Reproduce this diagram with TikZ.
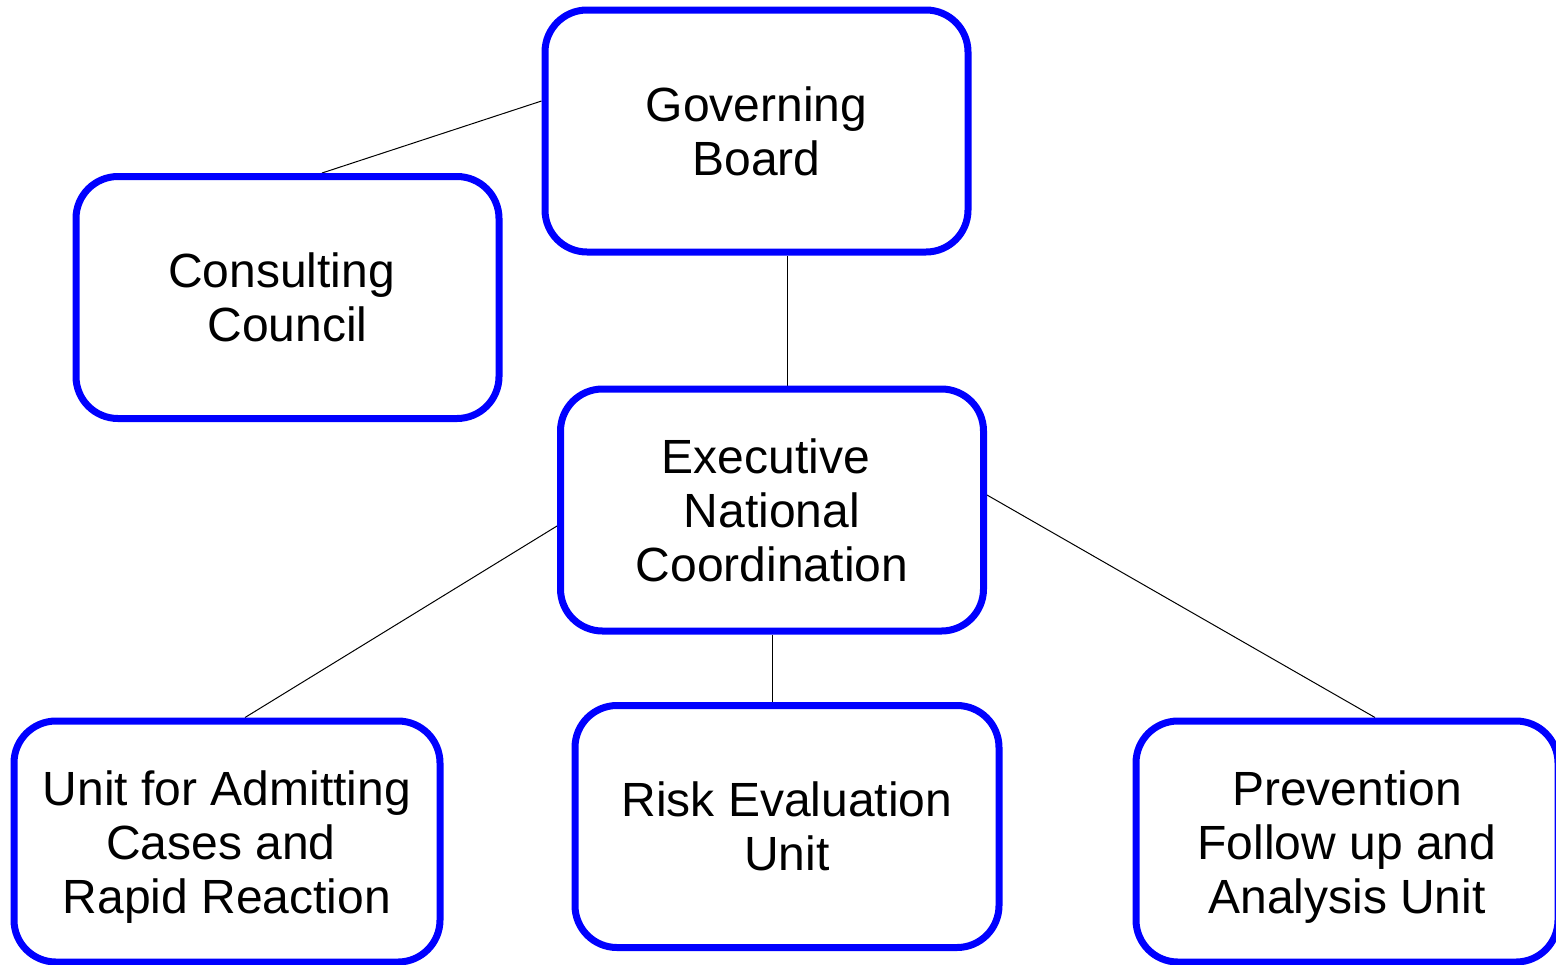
\documentclass[tikz,border=0pt]{standalone}
\usepackage{fontspec}
\setmainfont{Liberation Sans}
\usetikzlibrary{backgrounds}
\begin{document}
\begin{tikzpicture}[x=0.5pt,y=-0.5pt,
  boxfont/.style={font=\fontsize{24pt}{27pt}\selectfont, align=center, inner sep=0pt},
  orgbox/.style={draw=blue, line width=3.5pt, rounded corners=21pt, fill=white,
    minimum width=211.5pt, minimum height=121pt, boxfont},
  link/.style={draw=black, line width=0.5pt}]
\useasboundingbox (0,0) rectangle (1556,964);
\node[orgbox] (gov) at (756.5,131) {Governing\\Board};
\node[orgbox] (cons) at (287.5,297.5) {Consulting\kern6pt\\Council};
\node[orgbox] (exec) at (772,510) {Executive\kern6pt\\National\\Coordination};
\node[orgbox, minimum width=213pt, minimum height=120.5pt,
  label={[boxfont, yshift=-3pt]center:{Unit for Admitting\\Cases and\kern6pt\\Rapid Reaction}}] (unit) at (227,841.5) {};
\node[orgbox, minimum width=212pt] (risk) at (787,826.5) {Risk Evaluation\\Unit};
\node[orgbox, minimum width=211pt, minimum height=120.5pt,
  label={[boxfont, yshift=-3pt]center:{Prevention\\Follow up and\\Analysis Unit}}] (prev) at (1347,841.5) {};
\begin{scope}[on background layer]
  \fill[white] (0,0) rectangle (1556,964);
  \draw[link] ([yshift=15pt]gov.west) -- ([xshift=17.25pt]cons.north);
  \draw[link] ([xshift=15.25pt]gov.south) -- ([xshift=7.5pt]exec.north);
  \draw[link] ([yshift=-8pt]exec.west) -- ([xshift=9pt]unit.north);
  \draw[link] (exec.south) -- ([xshift=-7.5pt]risk.north);
  \draw[link] ([yshift=7.5pt]exec.east) -- ([xshift=14pt]prev.north);
\end{scope}
\end{tikzpicture}
\end{document}
